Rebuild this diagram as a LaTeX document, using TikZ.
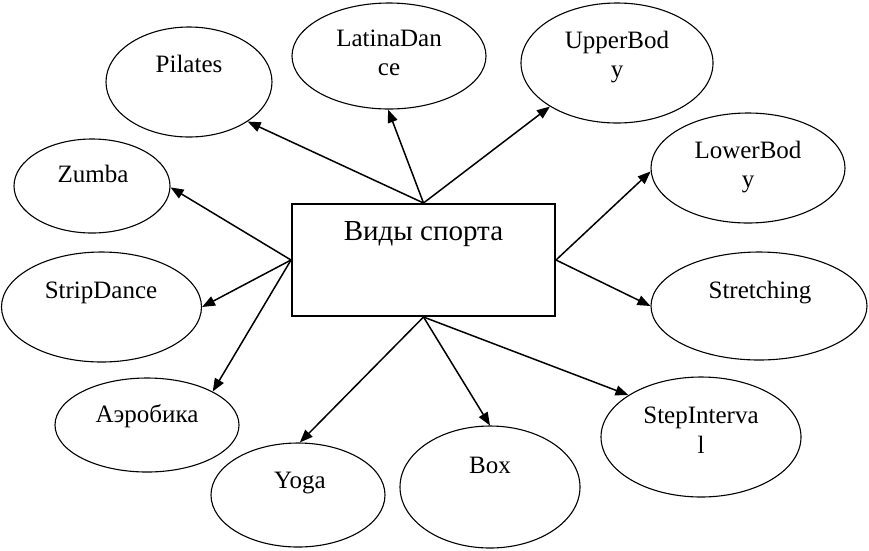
\documentclass[tikz,border=0pt]{standalone}
\usepackage{fontspec}
\setmainfont{Liberation Serif}
\usetikzlibrary{shapes.geometric,arrows.meta}
\begin{document}
\begin{tikzpicture}[x=1pt,y=-1pt,
  ell/.style={draw,ellipse,line width=1.1pt,inner sep=0pt,minimum width=#1},
  lbl/.style={anchor=base,inner sep=0pt,font=\fontsize{25}{30}\selectfont},
  conn/.style={line width=1.5pt,-{Triangle[length=13pt,width=10pt]}}]
\useasboundingbox (0,0) rectangle (869,550);
% central box
\node[draw,line width=2pt,minimum width=263pt,minimum height=112pt,inner sep=0pt] (mid) at (423.5,260) {};
\node[anchor=base,inner sep=0pt,font=\fontsize{29}{34}\selectfont] (midT) at (423.5,240) {Виды спорта};
% ellipses
\node[ell=166pt,minimum height=110pt] (pil) at (189,82) {};
\node[ell=194pt,minimum height=106pt] (lat) at (389,56) {};
\node[ell=192pt,minimum height=120pt] (upp) at (617,63) {};
\node[ell=194pt,minimum height=110pt] (low) at (748,168) {};
\node[ell=216pt,minimum height=108pt] (str) at (759,306) {};
\node[ell=200pt,minimum height=120pt] (stp) at (701,437) {};
\node[ell=180pt,minimum height=122pt] (box) at (490,487) {};
\node[ell=174pt,minimum height=104pt] (yog) at (298,495) {};
\node[ell=184pt,minimum height=94pt] (aer) at (147,425) {};
\node[ell=200pt,minimum height=110pt] (sdn) at (101.5,307) {};
\node[ell=156pt,minimum height=94pt] (zum) at (92,186) {};
% labels
\node[lbl] (pilT) at (189,72) {Pilates};
\node[lbl] (latT1) at (389,46) {LatinaDan};
\node[lbl] (latT2) at (389,75) {ce};
\node[lbl] (uppT1) at (617,48) {UpperBod};
\node[lbl] (uppT2) at (617,77) {y};
\node[lbl] (lowT1) at (748,158) {LowerBod};
\node[lbl] (lowT2) at (748,187) {y};
\node[lbl] (strT) at (760,298) {Stretching};
\node[lbl] (stpT1) at (701,423) {StepInterva};
\node[lbl] (stpT2) at (701,453) {l};
\node[lbl] (boxT) at (490,473) {Box};
\node[lbl] (yogT) at (300,488) {Yoga};
\node[lbl] (aerT) at (147,422) {Аэробика};
\node[lbl] (sdnT) at (101,298) {StripDance};
\node[lbl] (zumT) at (93,182) {Zumba};
% connectors
\draw[conn] (mid.north) -- (pil.-34);
\draw[conn] (mid.north) -- (lat.-91);
\draw[conn] (mid.north) -- (upp.213);
\draw[conn] (mid.east) -- (low.182);
\draw[conn] (mid.east) -- (str.180);
\draw[conn] (mid.south) -- (stp.150);
\draw[conn] (mid.south) -- (box.90);
\draw[conn] (mid.south) -- (yog.88);
\draw[conn] (mid.west) -- (aer.27);
\draw[conn] (mid.west) -- (sdn.0);
\draw[conn] (mid.west) -- (zum.-1);
\end{tikzpicture}
\end{document}
